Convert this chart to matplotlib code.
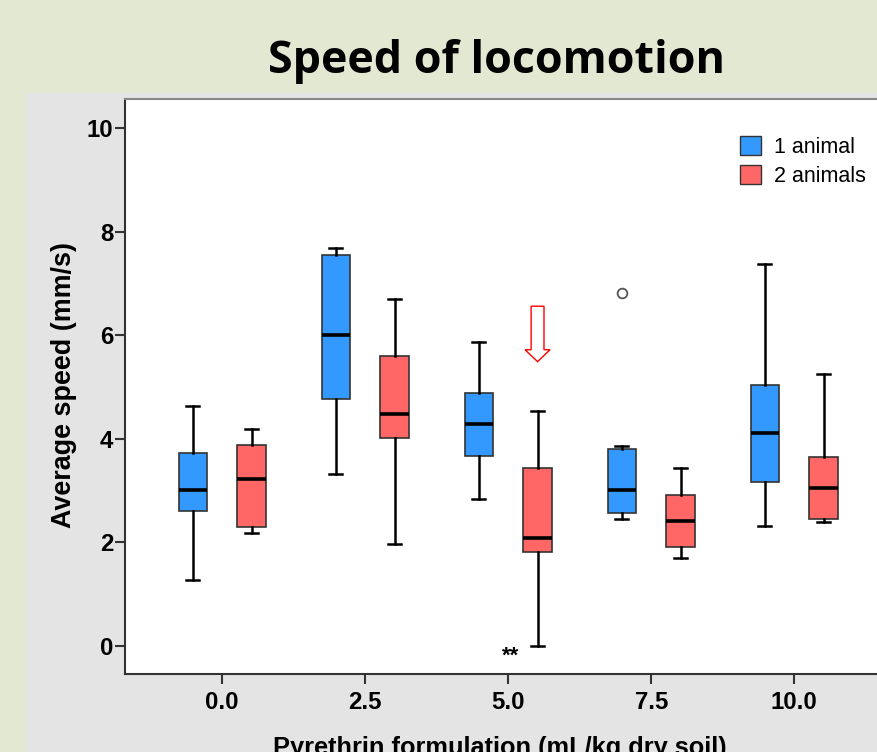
import matplotlib as mpl
mpl.use('Agg')
import matplotlib.pyplot as plt
from matplotlib.patches import Patch, Rectangle, FancyArrow

# doses of pyrethrin formulation (mL/kg dry soil)
doses = ['0.0', '2.5', '5.0', '7.5', '10.0']

# 1 animal
one_lo = [1.27, 3.32, 2.83, 2.45, 2.32]
one_q1 = [2.61, 4.77, 3.67, 2.56, 3.17]
one_med = [3.01, 6.00, 4.29, 3.02, 4.11]
one_q3 = [3.72, 7.55, 4.88, 3.80, 5.04]
one_hi = [4.63, 7.68, 5.86, 3.87, 7.37]
one_fliers = [[], [], [], [6.81], []]

# 2 animals
two_lo = [2.18, 1.96, 0.00, 1.70, 2.40]
two_q1 = [2.30, 4.01, 1.81, 1.92, 2.45]
two_med = [3.22, 4.48, 2.08, 2.42, 3.06]
two_q3 = [3.88, 5.60, 3.43, 2.92, 3.64]
two_hi = [4.19, 6.70, 4.54, 3.44, 5.25]
two_fliers = [[], [], [], [], []]

BLUE = '#3399ff'
RED = '#ff6666'
W, H = 878, 752

def MakeStats(lo, q1, med, q3, hi, fliers):
	Stats = []
	for i in range(len(med)):
		Stats.append(dict(whislo=lo[i], q1=q1[i], med=med[i], q3=q3[i],
						  whishi=hi[i], fliers=fliers[i]))
	return Stats

fig = plt.figure(figsize=(W / 100, H / 100), dpi=100)
fig.patch.set_facecolor('#e3e8d3')
plt.rcParams['font.family'] = ['Liberation Sans', 'DejaVu Sans']

# grey panel behind the chart
fig.patches.append(Rectangle((26 / W, 0), 1, 1 - 93 / H, transform=fig.transFigure,
							 facecolor='#e4e4e4', edgecolor='none', zorder=-5))

fig.text(497 / W, 1 - 62 / H, 'Speed of locomotion', ha='center', va='center',
		 fontsize=32.3, fontweight='bold', family='Open Sans')

ax = fig.add_axes([125 / W, 1 - 674 / H, 776.5 / W, 575 / H])
ax.set_facecolor('white')
ax.set_zorder(2)

Pos = list(range(len(doses)))
Off = 0.205
BoxW = 0.2

common = dict(widths=BoxW, patch_artist=True, showfliers=True, capwidths=0.09,
			  medianprops=dict(color='black', linewidth=2.6),
			  whiskerprops=dict(color='black', linewidth=1.8),
			  capprops=dict(color='black', linewidth=1.8),
			  flierprops=dict(marker='o', markerfacecolor='white', markeredgecolor='#555555',
							  markersize=7, markeredgewidth=1.3))

b1 = ax.bxp(MakeStats(one_lo, one_q1, one_med, one_q3, one_hi, one_fliers),
			positions=[p - Off for p in Pos],
			boxprops=dict(facecolor=BLUE, edgecolor='#333333', linewidth=1.2), **common)
b2 = ax.bxp(MakeStats(two_lo, two_q1, two_med, two_q3, two_hi, two_fliers),
			positions=[p + Off for p in Pos],
			boxprops=dict(facecolor=RED, edgecolor='#333333', linewidth=1.2), **common)

ax.set_xlim(-0.68, 4.75)
ax.set_ylim(-0.54, 10.56)
ax.set_xticks(Pos)
ax.set_xticklabels(doses)
ax.set_yticks([0, 2, 4, 6, 8, 10])

for Lbl in ax.get_xticklabels() + ax.get_yticklabels():
	Lbl.set_fontweight('bold')
ax.tick_params(axis='x', labelsize=17.3, length=7, width=1.5, color='#333333', pad=5.5)
ax.tick_params(axis='y', labelsize=17.3, length=7, width=1.5, color='#333333', pad=1.5)

ax.spines['left'].set_color('#333333')
ax.spines['bottom'].set_color('#333333')
ax.spines['left'].set_linewidth(1.5)
ax.spines['bottom'].set_linewidth(1.5)
ax.spines['top'].set_color('#888888')
ax.spines['top'].set_linewidth(1.5)
ax.spines['right'].set_visible(False)

fig.text(64 / W, 1 - 385 / H, 'Average speed (mm/s)', ha='center', va='center',
		 rotation=90, fontsize=19.4, fontweight='bold')
fig.text(500 / W, 1 - 748 / H, 'Pyrethrin formulation (mL/kg dry soil)', ha='center',
		 va='center', fontsize=18.3, fontweight='bold')

# significance mark and arrow over the 5.0 / 2 animals box
ax.text(2.02, -0.2, '**', ha='center', va='center', fontsize=16, fontweight='bold')
ax.add_patch(FancyArrow(2 + Off, 6.56, 0, -1.07, width=0.09, head_width=0.175,
						head_length=0.23, length_includes_head=True,
						facecolor='white', edgecolor='red', linewidth=1.0, zorder=5))

Handles = [Patch(facecolor=BLUE, edgecolor='#333333'), Patch(facecolor=RED, edgecolor='#333333')]
Leg = ax.legend(Handles, ['1 animal', '2 animals'], loc='upper left',
				bbox_to_anchor=(740 / W, 1 - 136 / H), bbox_transform=fig.transFigure,
				frameon=False, fontsize=15.5, handlelength=0.98, handleheight=0.98,
				handletextpad=0.62, labelspacing=0.33, borderpad=0, borderaxespad=0)

fig.savefig('out.png', dpi=100, facecolor=fig.get_facecolor())
